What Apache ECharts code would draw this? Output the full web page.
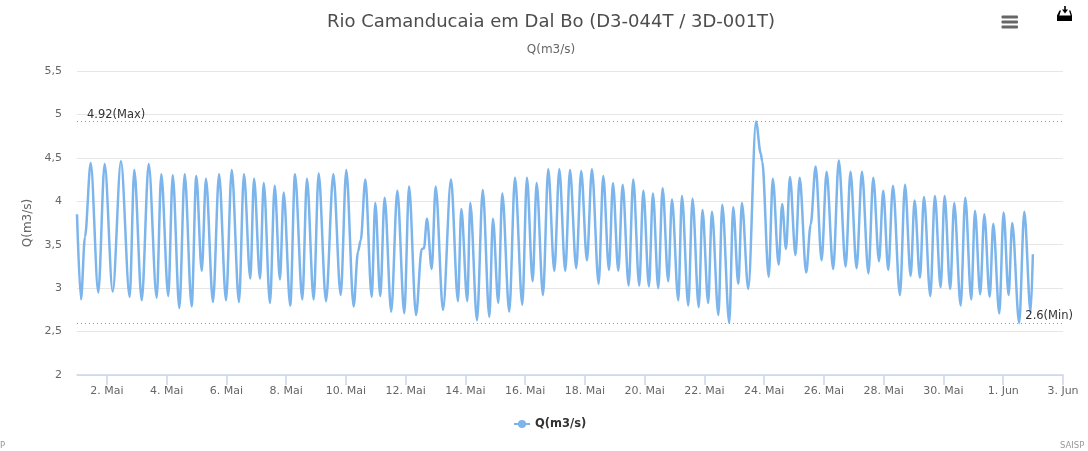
<!DOCTYPE html>
<html><head><meta charset="utf-8">
<style>html,body{margin:0;padding:0;background:#fff}#c{width:1088px;height:451px;filter:blur(0.45px)}</style>
<script src="https://cdn.jsdelivr.net/npm/echarts@6/dist/echarts.min.js"></script>
</head><body><div id="c"></div>
<script>
const titleText = 'Rio Camanducaia em Dal Bo (D3-044T / 3D-001T)';
const seriesName = 'Q(m3/s)';
const endHour = 792;
const tickHours = [24,72,120,168,216,264,312,360,408,456,504,552,600,648,696,744,792];
const tickLabels = ['2. Mai','4. Mai','6. Mai','8. Mai','10. Mai','12. Mai','14. Mai','16. Mai','18. Mai','20. Mai','22. Mai','24. Mai','26. Mai','28. Mai','30. Mai','1. Jun','3. Jun'];
const maxValue = 4.92, minValue = 2.6;
const hours = [0,3.2,6.4,11.0,17.1,22.2,28.7,35.3,42.3,46.0,52.0,57.6,64.0,67.7,73.3,76.9,82.2,86.5,92.1,95.8,100.2,103.6,109.2,114.1,119.7,124.3,130.1,134.1,139.2,142.2,147.0,150.0,155.0,158.8,163.0,166.0,171.3,175.1,181.0,184.7,190.1,194.1,200.0,205.9,211.8,216.3,222.2,225.7,227.9,231.6,236.7,239.6,243.6,247.1,252.4,257.3,262.9,266.7,272.3,276.9,278.7,281.1,284.9,288.1,294.0,300.4,306.0,308.7,313.5,315.9,321.3,325.9,331.2,334.1,338.4,341.6,347.2,351.8,357.7,361.4,366.0,369.2,374.3,378.5,383.4,387.4,392.2,396.0,401.0,405.0,409.6,413.6,419.0,422.7,427.3,430.5,434.8,438.3,443.1,446.8,451.6,454.9,459.4,462.6,466.9,470.4,474.9,477.9,483.0,485.9,491.0,494.4,499.4,502.4,507.0,510.0,515.2,518.3,523.9,527.1,531.2,534.1,539.2,545.4,549.2,550.4,555.6,558.9,563.6,566.4,569.5,572.7,577.1,580.5,585.7,589.3,593.3,598.1,602.1,607.4,611.9,617.4,621.3,626.2,630.5,635.7,639.6,644.2,647.6,651.6,655.4,661.0,665.1,669.6,672.8,677.1,680.3,685.4,689.1,693.7,696.9,701.4,704.6,709.8,713.5,718.3,721.3,725.5,728.8,733.1,736.0,740.8,744.3,748.3,751.2,756.8,760.9,766.0,767.8];
const flows = [3.85,2.87,3.59,4.44,2.95,4.43,2.96,4.46,2.90,4.36,2.86,4.43,2.89,4.31,2.91,4.30,2.77,4.31,2.79,4.29,3.20,4.26,2.84,4.31,2.86,4.36,2.84,4.31,3.11,4.26,3.11,4.21,2.83,4.18,3.10,4.10,2.80,4.31,2.87,4.26,2.87,4.32,2.85,4.31,2.92,4.36,2.79,3.42,3.55,4.25,2.90,3.98,2.91,4.04,2.73,4.12,2.71,4.17,2.69,3.45,3.46,3.80,3.22,4.17,2.75,4.25,2.85,3.91,2.85,3.98,2.63,4.13,2.67,3.80,2.83,4.09,2.73,4.27,2.81,4.27,3.08,4.21,2.92,4.37,3.20,4.37,3.20,4.36,3.23,4.35,3.32,4.37,3.05,4.29,3.21,4.21,3.20,4.19,3.03,4.25,3.03,4.12,3.02,4.09,3.00,4.15,3.08,4.02,2.86,4.06,2.80,4.03,2.78,3.90,2.83,3.88,2.69,3.96,2.60,3.93,3.05,3.98,2.99,4.92,4.55,4.46,3.13,4.26,3.27,3.97,3.45,4.28,3.38,4.27,3.18,3.73,4.40,3.32,4.34,3.22,4.47,3.25,4.34,3.23,4.34,3.17,4.27,3.31,4.12,3.21,4.18,2.92,4.19,3.14,4.01,3.12,4.05,2.91,4.06,3.01,4.06,2.99,3.98,2.80,4.04,2.87,3.89,2.93,3.85,2.90,3.74,2.71,3.87,2.92,3.75,2.60,3.88,2.72,3.39];

const points = hours.map((h,i)=>[h, flows[i]]);
const labelByHour = new Map(tickHours.map((t,i)=>[t,tickLabels[i]]));
const FONT = '"DejaVu Sans", sans-serif';

const chart = echarts.init(document.getElementById('c'), null, {renderer:'canvas'});
chart.setOption({
  animation:false,
  backgroundColor:'#fff',
  title:[
    {text:titleText,left:546,top:8,textAlign:'center',textStyle:{color:'#4d4d4d',fontSize:18,fontWeight:'normal',fontFamily:FONT}},
    {text:seriesName,left:546,top:39,textAlign:'center',textStyle:{color:'#666',fontSize:12,fontWeight:'normal',fontFamily:FONT}}
  ],
  legend:{show:true,data:[seriesName],left:508,top:413,itemWidth:16,itemHeight:10,itemGap:5,
    textStyle:{color:'#333',fontSize:11.5,fontWeight:'bold',fontFamily:FONT}},
  grid:{left:77,right:25,top:71,bottom:76,containLabel:false},
  xAxis:{type:'value',min:0,max:endHour,
    axisLine:{show:true,lineStyle:{color:'#ccd6eb',width:1.5}},
    axisTick:{show:true,length:10,customValues:tickHours,lineStyle:{color:'#ccd6eb',width:1.5}},
    splitLine:{show:false},
    axisLabel:{customValues:tickHours,formatter:v=>labelByHour.get(v)||'',color:'#666',fontSize:11,margin:11,fontFamily:FONT,showMinLabel:true,showMaxLabel:true,hideOverlap:false}
  },
  yAxis:{type:'value',min:2,max:5.5,interval:0.5,name:seriesName,nameLocation:'middle',nameGap:41,
    nameTextStyle:{color:'#666',fontSize:12,fontFamily:FONT},
    axisLine:{show:false},axisTick:{show:false},
    splitLine:{lineStyle:{color:'#e6e6e6',width:1}},
    axisLabel:{color:'#666',fontSize:11,margin:15,fontFamily:FONT,formatter:v=>String(v).replace('.',',')}
  },
  series:[{name:seriesName,type:'line',data:points,smooth:0.32,smoothMonotone:'x',symbol:'circle',symbolSize:7,showSymbol:false,
    color:'#7cb5ec',lineStyle:{color:'#7cb5ec',width:2.5},itemStyle:{color:'#7cb5ec'},
    markLine:{silent:true,symbol:'none',animation:false,
      lineStyle:{color:'#999',type:[1,3],width:1},
      data:[
        {yAxis:maxValue,label:{show:true,position:'insideStartTop',formatter:maxValue+'(Max)',color:'#333',fontSize:11.5,fontFamily:FONT,distance:[10,0]}},
        {yAxis:minValue,label:{show:true,position:'insideEndTop',formatter:minValue+'(Min)',color:'#333',fontSize:11.5,fontFamily:FONT,distance:[-10,1]}}
      ]}
  }],
  graphic:[
    {type:'rect',shape:{x:1001.5,y:15.5,width:16.5,height:3,r:1},style:{fill:'#666'}},
    {type:'rect',shape:{x:1001.5,y:20.5,width:16.5,height:3,r:1},style:{fill:'#666'}},
    {type:'rect',shape:{x:1001.5,y:25.5,width:16.5,height:3,r:1},style:{fill:'#666'}},
    {type:'polygon',shape:{points:[[1064.2,6],[1065.8,6],[1065.8,9.5],[1068,9.5],[1065,13.5],[1062,9.5],[1064.2,9.5]]},style:{fill:'#000'}},
    {type:'polygon',shape:{points:[[1057,15.5],[1059.5,10.5],[1061,10.5],[1059.3,15.5],[1070.7,15.5],[1069,10.5],[1070.5,10.5],[1072,15.5],[1072,21],[1057,21]]},style:{fill:'#000'}},
    {type:'text',x:1060,y:441,style:{text:'SAISP',fill:'#999',fontSize:8.5,fontFamily:FONT}},
    {type:'text',x:0,y:441,style:{text:'P',fill:'#999',fontSize:8.5,fontFamily:FONT}}
  ]
});
</script></body></html>
